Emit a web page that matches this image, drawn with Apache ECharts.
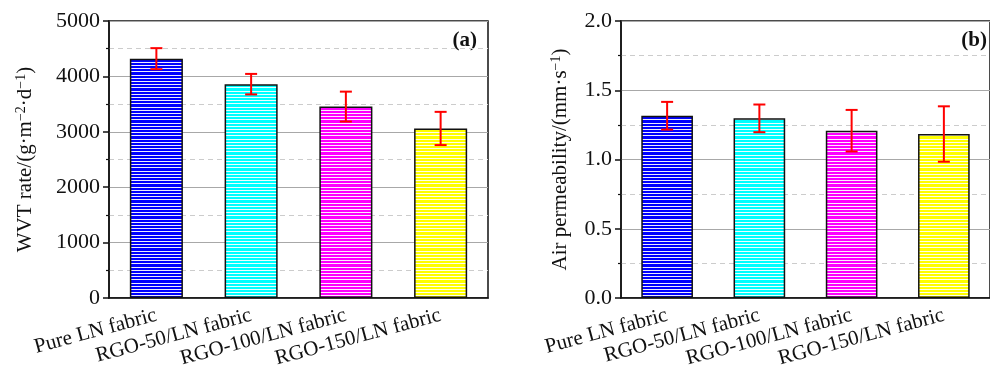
<!DOCTYPE html>
<html lang="en">
  <head>
    <meta charset="UTF-8" />
    <title>WVT rate and air permeability</title>
    <script src="https://cdn.jsdelivr.net/npm/echarts@6/dist/echarts.min.js"></script>
    <style>
      body { margin: 0; background: #fff; }
    </style>
  </head>
  <body>
    <div id="main" style="width: 990px; height: 376px"></div>
    <script>
      // data
      const fabrics = ['Pure LN fabric', 'RGO-50/LN fabric', 'RGO-100/LN fabric', 'RGO-150/LN fabric'];
      const wvtMean = [4320, 3860, 3455, 3060];
      const wvtErr = [190, 185, 270, 300];
      const airMean = [1.316, 1.297, 1.208, 1.184];
      const airErr = [0.1, 0.1, 0.15, 0.2];
      const barColors = ['#0000ff', '#00ffff', '#ff00ff', '#ffff00'];

      const font = 'Liberation Serif';

      // horizontal white stripes over the fill colour
      function stripes(color) {
        const c = document.createElement('canvas');
        c.width = 4;
        c.height = 16;
        const ctx = c.getContext('2d');
        ctx.fillStyle = color;
        ctx.fillRect(0, 0, 4, 16);
        ctx.fillStyle = 'rgba(255,255,255,0.92)';
        [1, 4, 7, 11, 14].forEach(function (y) {
          ctx.fillRect(0, y, 4, 1);
        });
        return { image: c, repeat: 'repeat' };
      }
      const patterns = barColors.map(stripes);

      function barData(values) {
        return values.map(function (v, i) {
          return { value: v, itemStyle: { color: patterns[i] } };
        });
      }

      function errData(means, errs) {
        return means.map(function (m, i) {
          return [i, m, errs[i]];
        });
      }

      function renderErr(params, api) {
        const x = api.value(0);
        const m = api.value(1);
        const e = api.value(2);
        const top = api.coord([x, m + e]);
        const bot = api.coord([x, m - e]);
        const cap = 6;
        const style = { stroke: '#ff0000', lineWidth: 2 };
        return {
          type: 'group',
          children: [
            { type: 'line', shape: { x1: top[0], y1: top[1], x2: bot[0], y2: bot[1] }, style: style },
            { type: 'line', shape: { x1: top[0] - cap, y1: top[1], x2: top[0] + cap, y2: top[1] }, style: style },
            { type: 'line', shape: { x1: bot[0] - cap, y1: bot[1], x2: bot[0] + cap, y2: bot[1] }, style: style },
          ],
        };
      }

      function xAxes(gridIndex) {
        return [
          {
            type: 'category',
            gridIndex: gridIndex,
            position: 'bottom',
            data: fabrics,
            axisLine: { lineStyle: { color: '#111', width: 1.5 } },
            axisTick: { alignWithLabel: true, length: 6, lineStyle: { color: '#111', width: 1.5 } },
            axisLabel: {
              interval: 0,
              rotate: 15,
              margin: 17,
              color: '#111',
              fontFamily: font,
              fontSize: 21,
            },
          },
          {
            type: 'category',
            gridIndex: gridIndex,
            position: 'bottom',
            data: fabrics,
            axisLine: { show: false },
            axisTick: { interval: 0, length: 3, lineStyle: { color: '#111', width: 1.5 } },
            axisLabel: { show: false },
          },
        ];
      }

      function yAxis(gridIndex, max, interval, digits, name, gap) {
        return {
          type: 'value',
          gridIndex: gridIndex,
          min: 0,
          max: max,
          interval: interval,
          name: name,
          nameLocation: 'middle',
          nameGap: gap,
          nameRotate: 90,
          nameTextStyle: {
            rich: {
              n: { fontFamily: font, fontSize: 21, color: '#111', lineHeight: 23 },
              s: { fontFamily: font, fontSize: 14, color: '#111', lineHeight: 14, verticalAlign: 'top' },
            },
          },
          axisLine: { show: true, lineStyle: { color: '#111', width: 1.5 } },
          axisTick: { show: true, length: 6, lineStyle: { color: '#111', width: 1.5 } },
          minorTick: { show: true, splitNumber: 2, length: 3, lineStyle: { color: '#111', width: 1.2 } },
          axisLabel: {
            margin: 9,
            color: '#111',
            fontFamily: font,
            fontSize: 22,
            formatter: function (v) {
              return v.toFixed(digits);
            },
          },
          splitLine: { show: true, lineStyle: { color: '#a8a8a8', width: 1.2 } },
          minorSplitLine: { show: true, lineStyle: { color: '#cccccc', width: 1.2, type: [5, 4] } },
        };
      }

      const chart = echarts.init(document.getElementById('main'));
      const option = {
        backgroundColor: '#fff',
        animation: false,
        grid: [
          { left: 109, top: 21, width: 379, height: 277, show: true, borderColor: '#111', borderWidth: 1.5 },
          { left: 621, top: 21, width: 379, height: 277, show: true, borderColor: '#111', borderWidth: 1.5 },
        ],
        xAxis: xAxes(0).concat(xAxes(1)),
        yAxis: [
          yAxis(0, 5000, 1000, 0, '{n|WVT rate/(g·m}{s|−2}{n|·d}{s|−1}{n|)}', 72),
          yAxis(1, 2, 0.5, 1, '{n|Air permeability/(mm·s}{s|−1}{n|)}', 49),
        ],
        graphic: [
          {
            type: 'text',
            right: 513,
            top: 30,
            style: { text: '(a)', font: 'bold 21px "Liberation Serif"', fill: '#111' },
          },
          {
            type: 'text',
            right: 3,
            top: 30,
            style: { text: '(b)', font: 'bold 21px "Liberation Serif"', fill: '#111' },
          },
        ],
        series: [
          {
            type: 'bar',
            xAxisIndex: 0,
            yAxisIndex: 0,
            barWidth: '56%',
            data: barData(wvtMean),
            itemStyle: { borderColor: '#111', borderWidth: 1.5 },
            z: 2,
          },
          {
            type: 'custom',
            xAxisIndex: 0,
            yAxisIndex: 0,
            data: errData(wvtMean, wvtErr),
            renderItem: renderErr,
            z: 3,
          },
          {
            type: 'bar',
            xAxisIndex: 2,
            yAxisIndex: 1,
            barWidth: '56%',
            data: barData(airMean),
            itemStyle: { borderColor: '#111', borderWidth: 1.5 },
            z: 2,
          },
          {
            type: 'custom',
            xAxisIndex: 2,
            yAxisIndex: 1,
            data: errData(airMean, airErr),
            renderItem: renderErr,
            z: 3,
          },
        ],
      };
      chart.setOption(option);
    </script>
  </body>
</html>
